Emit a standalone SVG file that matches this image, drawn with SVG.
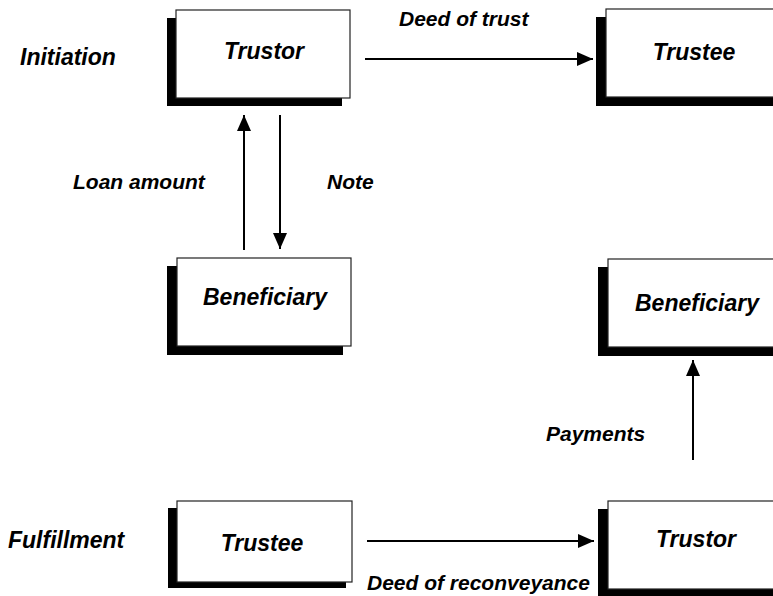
<svg xmlns="http://www.w3.org/2000/svg" width="773" height="596" viewBox="0 0 773 596">
<defs>
<style>
.sh{fill:#000}
.bx{fill:#fff;stroke:#222;stroke-width:1.2}
.t{font-family:"Liberation Sans",Arial,sans-serif;font-weight:bold;font-style:italic;fill:#000}
.nt{font-size:23px;text-anchor:middle}
.lb{font-size:21px}
.cn{stroke:#000;stroke-width:2;fill:none;marker-end:url(#ah)}
</style>
<marker id="ah" markerUnits="userSpaceOnUse" markerWidth="17" markerHeight="15" refX="16" refY="7" orient="auto">
<path d="M0,0 L16,7 L0,14 z" fill="#000"/>
</marker>
</defs>
<rect width="773" height="596" fill="#fff"/>
<text class="t lb" x="20" y="65" style="font-size:23px">Initiation</text>
<text class="t lb" x="8" y="548" style="font-size:23px">Fulfillment</text>
<g id="trustor-top">
<rect class="sh" x="167" y="18" width="175" height="88"/>
<rect class="bx" x="176" y="10" width="174" height="88"/>
<text class="t nt" x="264" y="59">Trustor</text>
</g>
<g id="trustee-top">
<rect class="sh" x="596" y="17" width="185" height="89"/>
<rect class="bx" x="606" y="9" width="180" height="88"/>
<text class="t nt" x="694" y="60">Trustee</text>
</g>
<g id="beneficiary-left">
<rect class="sh" x="167" y="266" width="176" height="89"/>
<rect class="bx" x="177" y="258" width="174" height="88"/>
<text class="t nt" x="265" y="305">Beneficiary</text>
</g>
<g id="beneficiary-right">
<rect class="sh" x="598" y="267" width="185" height="89"/>
<rect class="bx" x="608" y="259" width="180" height="88"/>
<text class="t nt" x="697" y="311">Beneficiary</text>
</g>
<g id="trustee-bottom">
<rect class="sh" x="168" y="508" width="178" height="80"/>
<rect class="bx" x="177" y="501" width="175" height="81"/>
<text class="t nt" x="262" y="551">Trustee</text>
</g>
<g id="trustor-bottom">
<rect class="sh" x="598" y="509" width="185" height="90"/>
<rect class="bx" x="608" y="501" width="180" height="88"/>
<text class="t nt" x="696" y="547">Trustor</text>
</g>
<g id="connectors">
<line class="cn" x1="365" y1="59" x2="593" y2="59"/>
<line class="cn" x1="244" y1="250" x2="244" y2="115"/>
<line class="cn" x1="280" y1="115" x2="280" y2="249"/>
<line class="cn" x1="693" y1="460" x2="693" y2="360"/>
<line class="cn" x1="367" y1="541" x2="594" y2="541"/>
</g>
<text class="t lb" x="399" y="26">Deed of trust</text>
<text class="t lb" x="73" y="189">Loan amount</text>
<text class="t lb" x="327" y="189">Note</text>
<text class="t lb" x="546" y="441">Payments</text>
<text class="t lb" x="367" y="590">Deed of reconveyance</text>
</svg>
